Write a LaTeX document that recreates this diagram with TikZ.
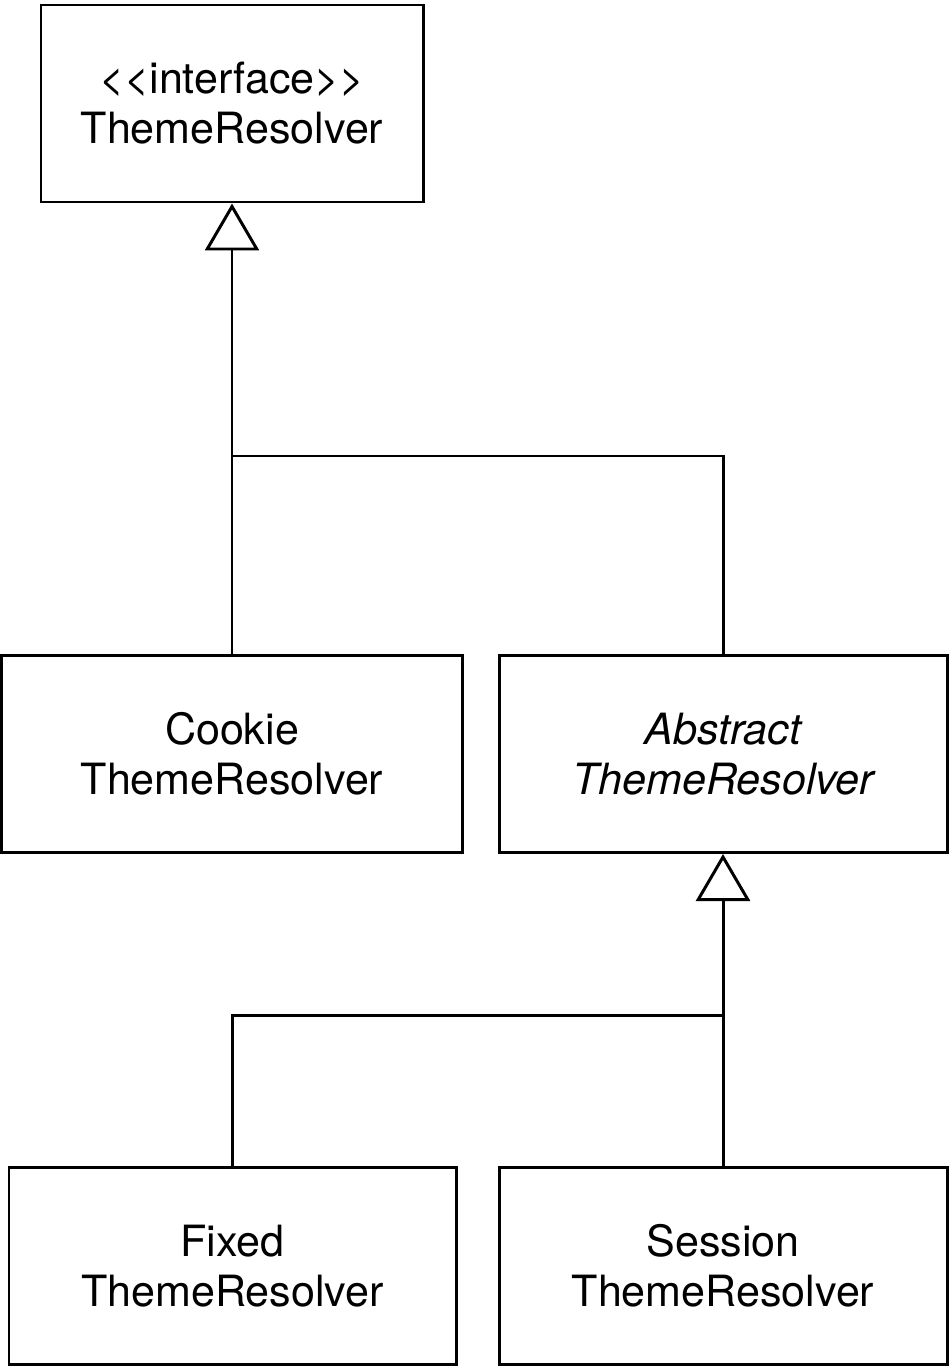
\documentclass[tikz,border=0pt]{standalone}
\usepackage{fontspec}
\newfontfamily\umlfont{TeX Gyre Heros}
\usetikzlibrary{arrows.meta}

\tikzset{
  classbox/.style={draw, line width=1.7pt, minimum height=3.94cm, align=center,
    font=\umlfont\fontsize{24.5}{28.5}\selectfont},
  impl/.style={line width=1.7pt, -{Triangle[open, length=0.94cm, width=1.08cm, fill=white]}},
  link/.style={line width=1.7pt}
}

\begin{document}
\begin{tikzpicture}
    \useasboundingbox (0,0) rectangle (19,-27.34);
    % Klassen
    \node[classbox, minimum width=7.64cm] (iface) at (4.64,-2.07) {<<interface>>\\ThemeResolver};
    \node[classbox, minimum width=9.22cm] (cookie) at (4.64,-15.07) {Cookie\\ThemeResolver};
    \node[classbox, minimum width=8.96cm] (abstract) at (14.46,-15.08) {\itshape Abstract\\\itshape ThemeResolver};
    \node[classbox, minimum width=8.94cm] (fixed) at (4.65,-25.32) {Fixed\\ThemeResolver};
    \node[classbox, minimum width=8.96cm] (session) at (14.46,-25.32) {Session\\ThemeResolver};
    % Verzweigungspunkte
    \coordinate (j1) at (4.64,-9.12);
    \coordinate (j2) at (14.46,-20.3);
    % Vererbung
    \draw[impl] (cookie.north) -- (iface.south);
    \draw[link] (abstract.north) |- (j1);
    \draw[impl] (session.north) -- (abstract.south);
    \draw[link] (fixed.north) |- (j2);
\end{tikzpicture}
\end{document}
